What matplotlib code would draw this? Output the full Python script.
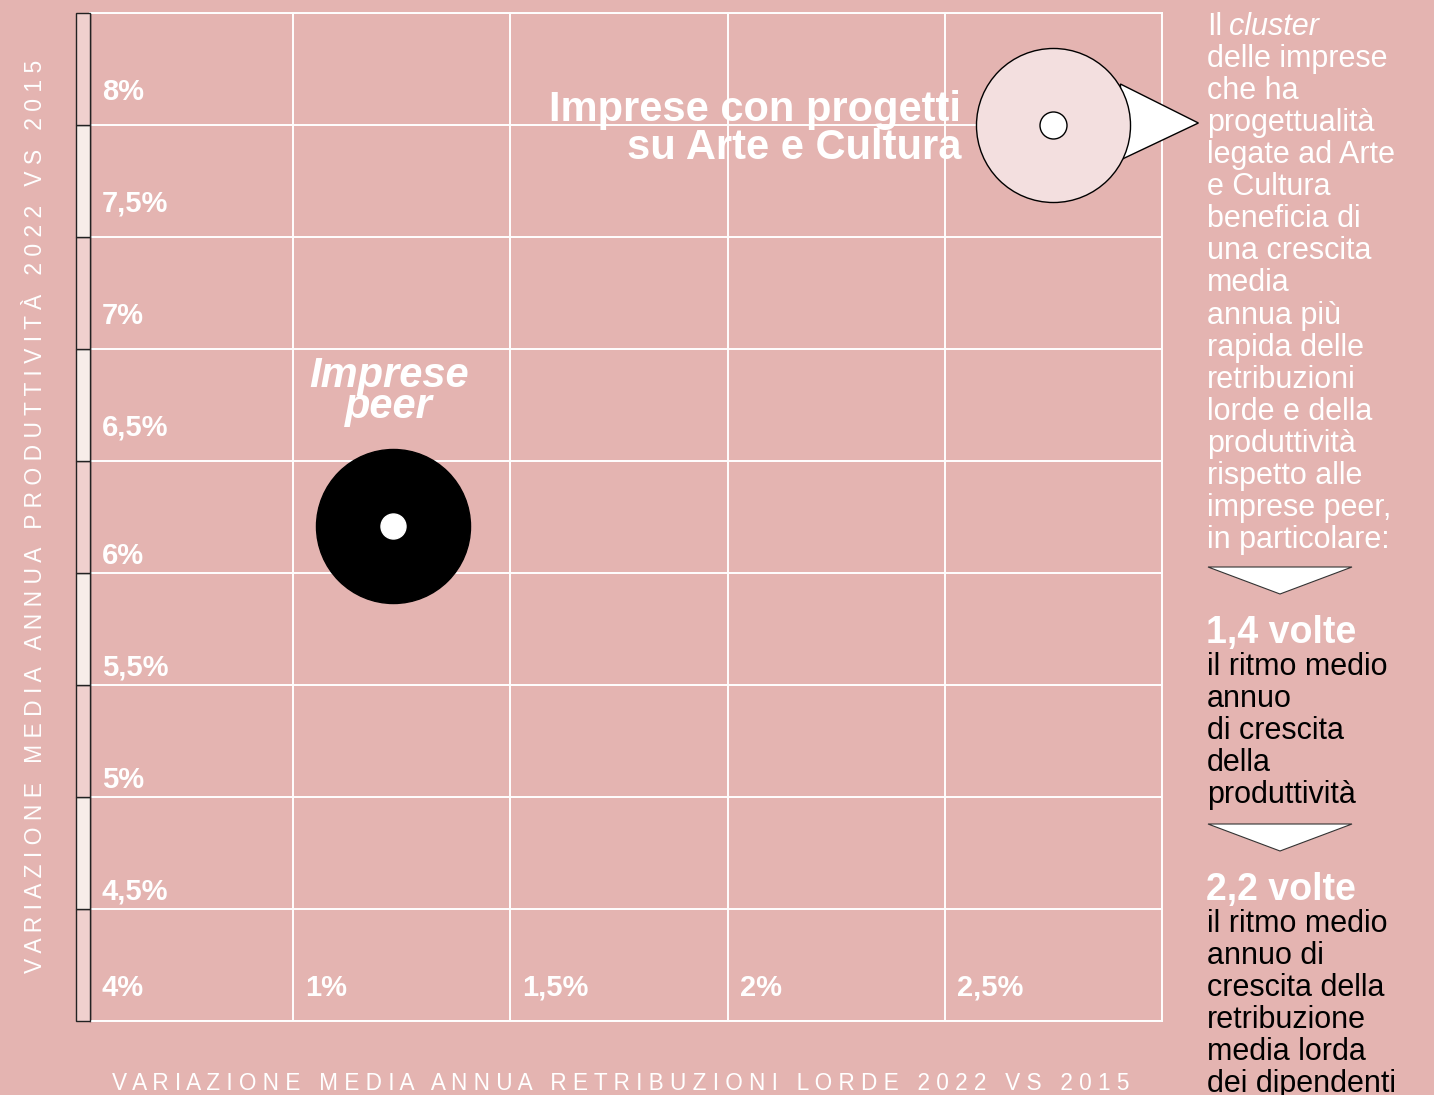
import numpy as np
import matplotlib
matplotlib.use("Agg")
import matplotlib.pyplot as plt
from matplotlib.patches import Polygon, Rectangle
from matplotlib.transforms import ScaledTranslation

plt.rcParams['font.family'] = ['Liberation Sans', 'DejaVu Sans']

# data
x_ticks = [1.0, 1.5, 2.0, 2.5]
x_labels = ["1%", "1,5%", "2%", "2,5%"]
y_ticks = [4.0, 4.5, 5.0, 5.5, 6.0, 6.5, 7.0, 7.5, 8.0]
y_labels = ["4%", "4,5%", "5%", "5,5%", "6%", "6,5%", "7%", "7,5%", "8%"]
peer_x, peer_y = 1.23, 6.21
arte_x, arte_y = 2.75, 8.0

bg = "#E4B4B1"
W, H = 1434, 1095

def fx(px):
    return px / W

def fy(py):
    return 1 - py / H

fig = plt.figure(figsize=(W / 100, H / 100), dpi=100, facecolor=bg)
ax = fig.add_axes([fx(90), fy(1021), (1162 - 90) / W, (1021 - 13) / H], facecolor=bg)
ax.set_xlim(1 - 203 / 434, 3.0)
ax.set_ylim(4.0, 8.5)

# grid
for v in x_ticks + [3.0]:
    ax.axvline(v, color="white", lw=1.4, zorder=1)
for v in y_ticks + [8.5]:
    ax.axhline(v, color="white", lw=1.4, zorder=1)
for s in ["top", "right", "bottom"]:
    ax.spines[s].set_color("white")
    ax.spines[s].set_linewidth(1.4)
ax.spines["left"].set_color("black")
ax.spines["left"].set_linewidth(1.0)
ax.set_xticks([])
ax.set_yticks([])

# left bar segments
bw = 14 / 1072
for i, v in enumerate(y_ticks):
    fc = "#F0D0CE" if i % 2 == 0 else "#F7EDE9"
    ax.add_patch(Rectangle((-bw, v), bw, 0.5, transform=ax.get_yaxis_transform(),
                           facecolor=fc, edgecolor="#222222", lw=1.0, clip_on=False, zorder=3))

# tick labels inside the grid
y_off = [25, 9, 9, 9, 9, 25, 25, 25, 25]
for v, lab, off in zip(y_ticks, y_labels, y_off):
    ax.annotate(lab, (0, v), xycoords=("axes fraction", "data"), xytext=(12, off),
                textcoords="offset pixels", color="white", fontsize=21, fontweight="bold",
                ha="left", va="baseline")
for v, lab in zip(x_ticks, x_labels):
    ax.annotate(lab, (v, 4.0), xytext=(12, 25), textcoords="offset pixels",
                color="white", fontsize=21, fontweight="bold", ha="left", va="baseline")

# peer bubble
ax.scatter([peer_x], [peer_y], s=12300, color="black", zorder=5)
ax.scatter([peer_x], [peer_y], s=324, color="white", zorder=6)
ax.annotate("Imprese", (peer_x, peer_y), xytext=(-4, 139), textcoords="offset pixels",
            color="white", fontsize=30, fontweight="bold", style="italic", ha="center", va="baseline")
ax.annotate("peer", (peer_x, peer_y), xytext=(-4, 108), textcoords="offset pixels",
            color="white", fontsize=30, fontweight="bold", style="italic", ha="center", va="baseline")

# arte bubble with pointer
tr = fig.dpi_scale_trans + ScaledTranslation(arte_x, arte_y, ax.transData)
ax.add_patch(Polygon([(0.67, 0.41), (1.45, 0.02), (0.69, -0.34)], closed=True, transform=tr,
                     facecolor="white", edgecolor="black", lw=1.0, clip_on=False, zorder=4))
ax.scatter([arte_x], [arte_y], s=12300, color="#F3DFDF", edgecolor="black", linewidth=1.0,
           zorder=5, clip_on=False)
ax.scatter([arte_x], [arte_y], s=378, color="white", edgecolor="black", linewidth=1.0, zorder=6)
ax.annotate("Imprese con progetti", (arte_x, arte_y), xytext=(-92, 4), textcoords="offset pixels",
            color="white", fontsize=30, fontweight="bold", ha="right", va="baseline")
ax.annotate("su Arte e Cultura", (arte_x, arte_y), xytext=(-92, -34), textcoords="offset pixels",
            color="white", fontsize=30, fontweight="bold", ha="right", va="baseline")

# axis titles (letter-spaced)
def spaced(s):
    return " ".join(s)

fig.text(fx(36), fy(516), spaced("VARIAZIONE MEDIA ANNUA PRODUTTIVITÀ 2022 VS 2015"),
         rotation=90, color="white", fontsize=16.5, ha="center", va="center")
fig.text(fx(621), fy(1084), spaced("VARIAZIONE MEDIA ANNUA RETRIBUZIONI LORDE 2022 VS 2015"),
         color="white", fontsize=16.3, ha="center", va="center")

# right-hand commentary
para = ["delle imprese", "che ha", "progettualità", "legate ad Arte", "e Cultura",
        "beneficia di", "una crescita", "media", "annua più", "rapida delle", "retribuzioni",
        "lorde e della", "produttività", "rispetto alle", "imprese peer,", "in particolare:"]
fig.text(fx(1207), fy(35), "Il", color="white", fontsize=22, va="baseline")
fig.text(fx(1229), fy(35), "cluster", color="white", fontsize=22, style="italic", va="baseline")
for i, line in enumerate(para):
    fig.text(fx(1207), fy(35 + 32.06 * (i + 1)), line, color="white", fontsize=22, va="baseline")

blocks = [("1,4 volte", ["il ritmo medio", "annuo", "di crescita", "della", "produttività"], 567),
          ("2,2 volte", ["il ritmo medio", "annuo di", "crescita della", "retribuzione",
                         "media lorda", "dei dipendenti"], 824)]
for head, lines, top in blocks:
    fig.patches.append(Polygon([(fx(1208), fy(top)), (fx(1352), fy(top)), (fx(1280), fy(top + 27))],
                               closed=True, transform=fig.transFigure, facecolor="white",
                               edgecolor="#333333", lw=0.8))
    base = top + 76
    fig.text(fx(1206), fy(base), head, color="white", fontsize=27, fontweight="bold", va="baseline")
    for j, line in enumerate(lines):
        fig.text(fx(1207), fy(base + 32 * (j + 1)), line, color="black", fontsize=22, va="baseline")

fig.savefig("out.png", dpi=100, facecolor=bg)
